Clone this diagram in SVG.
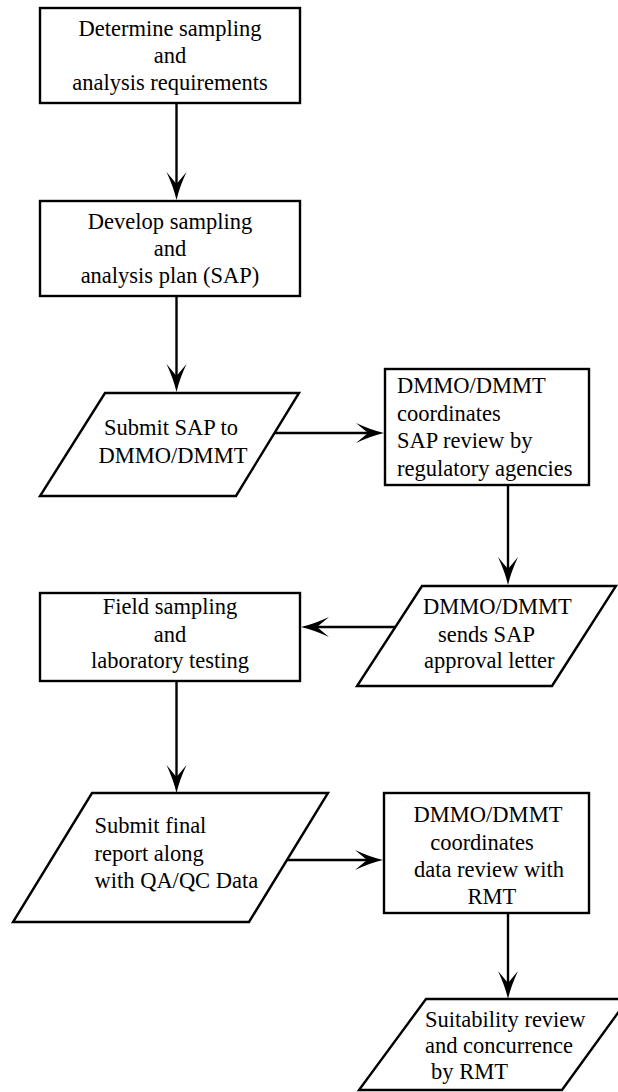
<svg xmlns="http://www.w3.org/2000/svg" width="618" height="1092" viewBox="0 0 618 1092">
<style>
.shape{fill:#fff;stroke:#000;stroke-width:2.4;stroke-linejoin:miter}
.t{font-family:"Liberation Serif","Times New Roman",serif;font-size:22.5px;fill:#000}
.c{text-anchor:middle}
.conn{fill:none;stroke:#000;stroke-width:2.4}
</style>
<defs>
<marker id="ah" markerUnits="userSpaceOnUse" markerWidth="30" markerHeight="22" refX="12" refY="10" orient="auto" overflow="visible">
<path d="M0,0 Q15,7 28,10 Q15,13 0,20 L12,10 Z" fill="#000"/>
</marker>
</defs>
<rect width="618" height="1092" fill="#fff"/>
<g id="connectors">
<line class="conn" x1="176.5" y1="103" x2="176.5" y2="184" marker-end="url(#ah)"/>
<line class="conn" x1="176.5" y1="296" x2="176.5" y2="376" marker-end="url(#ah)"/>
<line class="conn" x1="274.5" y1="433" x2="368" y2="433" marker-end="url(#ah)"/>
<line class="conn" x1="508" y1="485" x2="508" y2="569" marker-end="url(#ah)"/>
<line class="conn" x1="395.5" y1="627" x2="317" y2="627" marker-end="url(#ah)"/>
<line class="conn" x1="176.5" y1="681" x2="176.5" y2="777" marker-end="url(#ah)"/>
<line class="conn" x1="286.5" y1="860" x2="367" y2="860" marker-end="url(#ah)"/>
<line class="conn" x1="508" y1="913" x2="508" y2="983" marker-end="url(#ah)"/>
</g>
<g id="n1">
<rect class="shape" x="40" y="8" width="260" height="95"/>
<text class="t c" x="170" y="36">Determine sampling</text>
<text class="t c" x="170" y="63">and</text>
<text class="t c" x="170" y="90">analysis requirements</text>
</g>
<g id="n2">
<rect class="shape" x="40" y="201" width="260" height="95"/>
<text class="t c" x="170" y="229">Develop sampling</text>
<text class="t c" x="170" y="256">and</text>
<text class="t c" x="170" y="283">analysis plan (SAP)</text>
</g>
<g id="n3">
<polygon class="shape" points="105,393 299,393 236,496 40,496"/>
<text class="t c" x="171" y="435">Submit SAP to</text>
<text class="t c" x="173" y="463">DMMO/DMMT</text>
</g>
<g id="n4">
<rect class="shape" x="385" y="369" width="204" height="116"/>
<text class="t" x="397" y="393">DMMO/DMMT</text>
<text class="t" x="397" y="421">coordinates</text>
<text class="t" x="397" y="448">SAP review by</text>
<text class="t" x="397" y="476">regulatory agencies</text>
</g>
<g id="n5">
<polygon class="shape" points="422,586 616,586 552,686 357,686"/>
<text class="t" x="423" y="614">DMMO/DMMT</text>
<text class="t" x="438" y="642">sends SAP</text>
<text class="t" x="424" y="668">approval letter</text>
</g>
<g id="n6">
<rect class="shape" x="40" y="593" width="260" height="88"/>
<text class="t c" x="170" y="614">Field sampling</text>
<text class="t c" x="170" y="642">and</text>
<text class="t c" x="170" y="668">laboratory testing</text>
</g>
<g id="n7">
<polygon class="shape" points="92,793 328,793 249,922 13,922"/>
<text class="t" x="94.5" y="833">Submit final</text>
<text class="t" x="94.5" y="861">report along</text>
<text class="t" x="94.5" y="888">with QA/QC Data</text>
</g>
<g id="n8">
<rect class="shape" x="384" y="793" width="205" height="120"/>
<text class="t c" x="488" y="822">DMMO/DMMT</text>
<text class="t c" x="482" y="850">coordinates</text>
<text class="t c" x="489" y="877">data review with</text>
<text class="t c" x="492" y="904">RMT</text>
</g>
<g id="n9">
<polygon class="shape" points="426,999 628,999 562,1090 359,1090"/>
<text class="t" x="425" y="1027">Suitability review</text>
<text class="t" x="425" y="1053">and concurrence</text>
<text class="t" x="431" y="1079">by RMT</text>
</g>
</svg>
